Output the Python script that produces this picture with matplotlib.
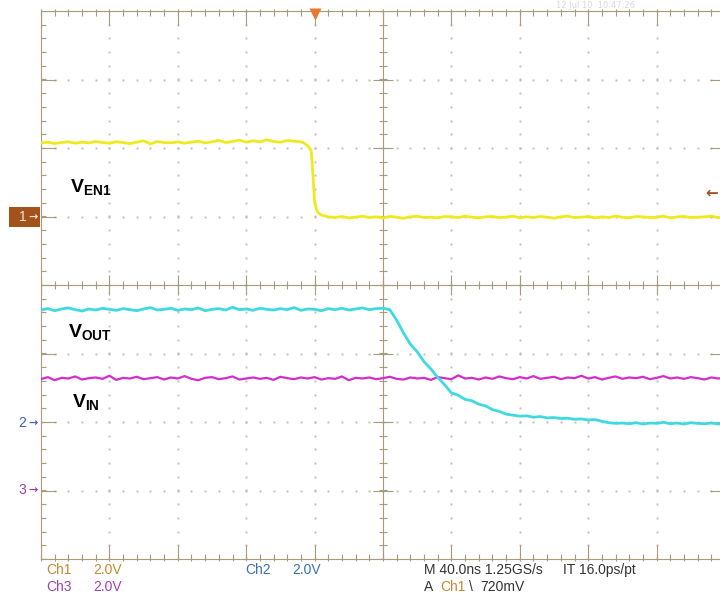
import numpy as np
import matplotlib.pyplot as plt
from matplotlib.patches import Rectangle

plt.rcParams["mathtext.fontset"] = "custom"
plt.rcParams["mathtext.rm"] = "Liberation Sans"
plt.rcParams["mathtext.bf"] = "Liberation Sans:bold"

# Scope settings (M 40.0ns, 2.0V/div on all channels)
NS_PER_DIV = 40.0
VOLTS_PER_DIV = 2.0

# Sample times, trigger at 0 ns (4 div from left edge)
t_ns = np.arange(-160, 241, 4)

# Ch1 : V_EN1 (V)
en1_v = [
    2.15, 2.17, 2.13, 2.16, 2.18, 2.14, 2.17, 2.15, 2.19, 2.16,
    2.14, 2.18, 2.16, 2.13, 2.17, 2.21, 2.12, 2.19, 2.16, 2.15,
    2.18, 2.14, 2.17, 2.20, 2.15, 2.18, 2.22, 2.16, 2.19, 2.23,
    2.17, 2.21, 2.18, 2.24, 2.19, 2.17, 2.22, 2.20, 2.18, 2.06,
    0.42, 0.04,
    -0.01, -0.03, 0.00, -0.04, -0.02, 0.01, -0.03, -0.01, -0.04, 0.00,
    -0.02, -0.05, -0.01, 0.01, -0.03, -0.02, -0.04, 0.00, -0.01, -0.03,
    0.01, -0.02, -0.04, -0.01, 0.00, -0.03, -0.02, 0.01, -0.04, -0.01,
    -0.03, 0.00, -0.02, -0.05, -0.01, 0.01, -0.03, -0.02, 0.00, -0.04,
    -0.01, -0.03, 0.01, -0.02, -0.04, 0.00, -0.01, -0.03, -0.02, 0.01,
    -0.04, -0.01, 0.00, -0.03, -0.02, -0.01, 0.01, -0.03, -0.02,
]

# extra samples across the fast EN1 falling edge
en1_edge_t = [-6, -2, -1, 1, 2]
en1_edge_v = [2.14, 1.93, 1.25, 0.22, 0.11]

# Ch2 : V_OUT (V)
vout_v = [
    3.27, 3.31, 3.25, 3.30, 3.33, 3.28, 3.24, 3.30, 3.27, 3.32,
    3.29, 3.26, 3.31, 3.28, 3.25, 3.30, 3.34, 3.27, 3.29, 3.32,
    3.26, 3.30, 3.28, 3.33, 3.25, 3.29, 3.31, 3.27, 3.35, 3.28,
    3.30, 3.26, 3.32, 3.29, 3.27, 3.31, 3.28, 3.34, 3.26, 3.30,
    3.29, 3.25, 3.31, 3.28, 3.32, 3.27, 3.30, 3.33, 3.28, 3.31,
    3.32, 3.28, 2.97, 2.60, 2.27, 2.05, 1.76, 1.55, 1.30, 1.09,
    0.85, 0.78, 0.66, 0.62, 0.52, 0.47, 0.36, 0.31, 0.23, 0.20,
    0.17, 0.18, 0.14, 0.16, 0.12, 0.13, 0.10, 0.11, 0.08, 0.09,
    0.06, 0.07, 0.02, -0.02, -0.04,
    -0.03, -0.05, -0.02, -0.06, -0.03, -0.04, -0.01, -0.05, -0.03, -0.06,
    -0.02, -0.04, -0.05, -0.03, -0.06, -0.04,
]

# Ch3 : V_IN (V)
vin_v = [
    3.25, 3.31, 3.22, 3.29, 3.27, 3.33, 3.24, 3.28, 3.30, 3.26,
    3.35, 3.23, 3.29, 3.27, 3.32, 3.25, 3.28, 3.31, 3.24, 3.30,
    3.27, 3.34, 3.26, 3.22, 3.29, 3.31, 3.25, 3.28, 3.33, 3.24,
    3.27, 3.30, 3.26, 3.29, 3.23, 3.32, 3.28, 3.25, 3.30, 3.27,
    3.31, 3.24, 3.28, 3.26, 3.33, 3.22, 3.29, 3.27, 3.30, 3.25,
    3.28, 3.32, 3.26, 3.24, 3.30, 3.27, 3.29, 3.23, 3.31, 3.28,
    3.25, 3.36, 3.27, 3.29, 3.24, 3.30, 3.26, 3.33, 3.28, 3.25,
    3.31, 3.27, 3.34, 3.26, 3.29, 3.32, 3.25, 3.30, 3.28, 3.35,
    3.27, 3.31, 3.24, 3.29, 3.33, 3.26, 3.30, 3.28, 3.32, 3.25,
    3.29, 3.34, 3.27, 3.30, 3.26, 3.31, 3.28, 3.24, 3.30, 3.27,
    3.29,
]

# Ground reference of each channel, in divisions from screen centre
CH1_OFFSET = 1
CH2_OFFSET = -2
CH3_OFFSET = -3

YELLOW = "#efea1e"
CYAN = "#3fd9e2"
MAGENTA = "#d62ccd"
FRAME = "#a89b7c"
DOTS = "#bdbdbd"
BROWN = "#a4521c"

W, H = 720, 599


def fx(px):
    return px / W


def fy(py):
    return 1 - py / H


fig = plt.figure(figsize=(7.2, 5.99), dpi=100)
ax = fig.add_axes([fx(41), fy(559), 684 / W, 548 / H])
ax.set_xlim(-160, 240)
ax.set_ylim(-4, 4)
ax.set_xticks([])
ax.set_yticks([])
for s in ax.spines.values():
    s.set_color(FRAME)
    s.set_linewidth(0.8)

# --- graticule ---
x_major = np.arange(-160, 241, NS_PER_DIV)
y_major = np.arange(-4, 5, 1)
x_minor = np.arange(-160, 241, NS_PER_DIV / 5)
y_minor = np.arange(-4, 4.01, 0.2)
xc, yc = 40, 0

for x in x_major[1:-1]:
    if x == xc:
        continue
    ax.plot(np.full(len(y_minor), x), y_minor, ls="none", marker="s",
            ms=1.4, mec="none", mfc=DOTS)
for y in y_major[1:-1]:
    if y == yc:
        continue
    ax.plot(x_minor, np.full(len(x_minor), y), ls="none", marker="s",
            ms=1.4, mec="none", mfc=DOTS)

# centre axes with ticks
ax.axvline(xc, color=FRAME, lw=0.8)
ax.axhline(yc, color=FRAME, lw=0.8)
dx_min, dx_maj = 2.4, 6.0
dy_min, dy_maj = 0.06, 0.15
ax.hlines(y_minor, xc - dx_min, xc + dx_min, color=FRAME, lw=0.8)
ax.hlines(y_major, xc - dx_maj, xc + dx_maj, color=FRAME, lw=0.8)
ax.vlines(x_minor, yc - dy_min, yc + dy_min, color=FRAME, lw=0.8)
ax.vlines(x_major, yc - dy_maj, yc + dy_maj, color=FRAME, lw=0.8)

# edge ticks
ax.vlines(x_minor, 4 - 0.08, 4 + 0.03, color=FRAME, lw=0.8, clip_on=False)
ax.vlines(x_major, 4 - 0.21, 4, color=FRAME, lw=0.8)
ax.vlines(x_minor, -4 - 0.03, -4 + 0.08, color=FRAME, lw=0.8, clip_on=False)
ax.vlines(x_major, -4, -4 + 0.21, color=FRAME, lw=0.8)
ax.hlines(y_minor, -160, -160 + 3.0, color=FRAME, lw=0.8)
ax.hlines(y_major, -160, -160 + 8.5, color=FRAME, lw=0.8)
ax.hlines(y_minor, 240 - 3.0, 240, color=FRAME, lw=0.8)
ax.hlines(y_major, 240 - 8.5, 240, color=FRAME, lw=0.8)

# --- traces ---
t1 = np.concatenate([t_ns, en1_edge_t])
v1 = np.concatenate([en1_v, en1_edge_v])
order = np.argsort(t1)
ax.plot(t1[order], CH1_OFFSET + v1[order] / VOLTS_PER_DIV,
        color=YELLOW, lw=2.0, zorder=5)
ax.plot(t_ns, CH3_OFFSET + np.array(vin_v) / VOLTS_PER_DIV,
        color=MAGENTA, lw=1.6, zorder=5)
ax.plot(t_ns, CH2_OFFSET + np.array(vout_v) / VOLTS_PER_DIV,
        color=CYAN, lw=2.0, zorder=6)

# trace labels
lbl = dict(fontsize=14, color="black", va="baseline", ha="left", zorder=8)
ax.text(-143, 1.36, r"$\mathbf{V_{EN1}}$", **lbl)
ax.text(-144, -0.76, r"$\mathbf{V_{OUT}}$", **lbl)
ax.text(-142, -1.78, r"$\mathbf{V_{IN}}$", **lbl)

# trigger position marker
ax.plot([0], [4 - 0.04], marker="v", ms=8, color="#e8782c", mec="none",
        clip_on=False, zorder=9)

# channel ground markers
fig.patches.append(Rectangle((fx(9), fy(227)), 31 / W, 20 / H,
                             transform=fig.transFigure, fc=BROWN, ec="none"))
fig.text(fx(23), fy(217), "1", color="#f3e3d3", fontsize=10,
         ha="center", va="center", family="Liberation Sans")
fig.text(fx(33), fy(217), "→", color="#f3e3d3", fontsize=8,
         ha="center", va="center", weight="bold")
fig.text(fx(22), fy(423), "2", color="#4062b0", fontsize=10,
         ha="center", va="center", family="Liberation Sans")
fig.text(fx(33), fy(423), "→", color="#4062b0", fontsize=8,
         ha="center", va="center", weight="bold")
fig.text(fx(22), fy(490), "3", color="#a03aa8", fontsize=10,
         ha="center", va="center", family="Liberation Sans")
fig.text(fx(33), fy(490), "→", color="#a03aa8", fontsize=8,
         ha="center", va="center", weight="bold")

# trigger level arrow on the right
fig.text(fx(712), fy(193), "←", color=BROWN, fontsize=11,
         ha="center", va="center", weight="bold")

# faint header text
fig.text(fx(556), fy(5), "12 Jul 10  10:47:26", color="#dadada",
         fontsize=6, ha="left", va="center")

# --- readout ---
ro = dict(fontsize=10, va="center", ha="left", family="Liberation Sans")
ORANGE = "#c4892e"
PURPLE = "#a040b0"
BLUE = "#3a6fba"
DARK = "#333333"
fig.text(fx(46), fy(570), "Ch1", color=ORANGE, **ro)
fig.text(fx(93), fy(570), "2.0V", color=ORANGE, **ro)
fig.text(fx(46), fy(587), "Ch3", color=PURPLE, **ro)
fig.text(fx(93), fy(587), "2.0V", color=PURPLE, **ro)
fig.text(fx(245), fy(570), "Ch2", color=BLUE, **ro)
fig.text(fx(292), fy(570), "2.0V", color=BLUE, **ro)
fig.text(fx(424), fy(570), "M 40.0ns 1.25GS/s", color=DARK, **ro)
fig.text(fx(563), fy(570), "IT 16.0ps/pt", color=DARK, **ro)
fig.text(fx(424), fy(587), "A", color=DARK, **ro)
fig.text(fx(440), fy(587), "Ch1", color=ORANGE, **ro)
fig.text(fx(469), fy(587), "\\", color=DARK, **ro)
fig.text(fx(480), fy(587), "720mV", color=DARK, **ro)

fig.savefig("out.png", dpi=100)
